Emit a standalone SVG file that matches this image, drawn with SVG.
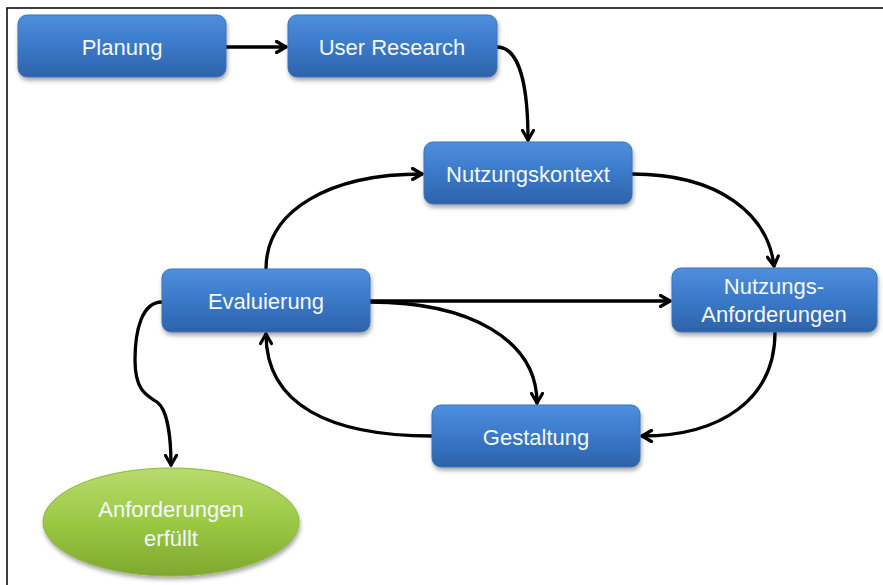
<svg xmlns="http://www.w3.org/2000/svg" width="883" height="585" viewBox="0 0 883 585">
<defs>
<linearGradient id="gb" x1="0" y1="0" x2="0" y2="1">
<stop offset="0" stop-color="#4f8fdd"/>
<stop offset="0.45" stop-color="#3c7bcb"/>
<stop offset="1" stop-color="#2e62aa"/>
</linearGradient>
<linearGradient id="gg" x1="0" y1="0" x2="0" y2="1">
<stop offset="0" stop-color="#b8db6e"/>
<stop offset="0.5" stop-color="#9bc944"/>
<stop offset="1" stop-color="#7ea82e"/>
</linearGradient>
<filter id="sh" x="-10%" y="-10%" width="120%" height="140%">
<feDropShadow dx="1" dy="3" stdDeviation="2" flood-color="#000" flood-opacity="0.35"/>
</filter>
<marker id="arr" viewBox="0 0 14 14" refX="11.5" refY="7" markerWidth="14" markerHeight="14" markerUnits="userSpaceOnUse" orient="auto">
<polyline points="2,1.5 11.5,7 2,12.5" fill="none" stroke="#000" stroke-width="3.2" stroke-linecap="round" stroke-linejoin="round"/>
</marker>
<style>
.box{fill:url(#gb);stroke:#3b72bd;stroke-width:1;filter:url(#sh)}
.ell{fill:url(#gg);stroke:#8cb83a;stroke-width:1;filter:url(#sh)}
.t{font-family:"Liberation Sans","Noto Sans",sans-serif;font-size:22px;fill:#f5f9fd;text-anchor:middle}
.c{fill:none;stroke:#000;stroke-width:3.3;stroke-linecap:round;marker-end:url(#arr)}
.frame{fill:none;stroke:#000;stroke-width:1.5}
</style>
</defs>
<rect x="0" y="0" width="883" height="585" fill="#fff"/>
<path class="frame" d="M7,585 V8 H883"/>
<g id="connectors">
<path class="c" d="M226,47 H286"/>
<path class="c" d="M497,47 C522,47 528,95 528,140"/>
<path class="c" d="M632,174 C720,174 768,215 774,266"/>
<path class="c" d="M775,332 C775,400 720,436 642,436"/>
<path class="c" d="M432,436 C330,436 266,405 266,334"/>
<path class="c" d="M266,269 C266,210 330,174 422,174"/>
<path class="c" d="M370,301 H670"/>
<path class="c" d="M370,302 C470,302 537,340 537,403"/>
<path class="c" d="M162,302 C142,302 135,330 135,360 C135,392 148,396 157,402 C168,410 171,440 171,465"/>
</g>
<g id="planung">
<rect class="box" x="18" y="15" width="208" height="62" rx="9"/>
<text class="t" x="122" y="55">Planung</text>
</g>
<g id="user-research">
<rect class="box" x="288" y="15" width="209" height="62" rx="9"/>
<text class="t" x="392" y="55">User Research</text>
</g>
<g id="nutzungskontext">
<rect class="box" x="424" y="142" width="208" height="62" rx="9"/>
<text class="t" x="528" y="182">Nutzungskontext</text>
</g>
<g id="evaluierung">
<rect class="box" x="162" y="269" width="208" height="63" rx="9"/>
<text class="t" x="266" y="309">Evaluierung</text>
</g>
<g id="nutzungs-anforderungen">
<rect class="box" x="672" y="268" width="205" height="64" rx="9"/>
<text class="t" x="774" y="294">Nutzungs-</text>
<text class="t" x="774" y="322">Anforderungen</text>
</g>
<g id="gestaltung">
<rect class="box" x="432" y="405" width="208" height="62" rx="9"/>
<text class="t" x="536" y="445">Gestaltung</text>
</g>
<g id="anforderungen-erfuellt">
<ellipse class="ell" cx="171" cy="522" rx="128" ry="54"/>
<text class="t" x="171" y="517">Anforderungen</text>
<text class="t" x="171" y="546">erfüllt</text>
</g>
</svg>
